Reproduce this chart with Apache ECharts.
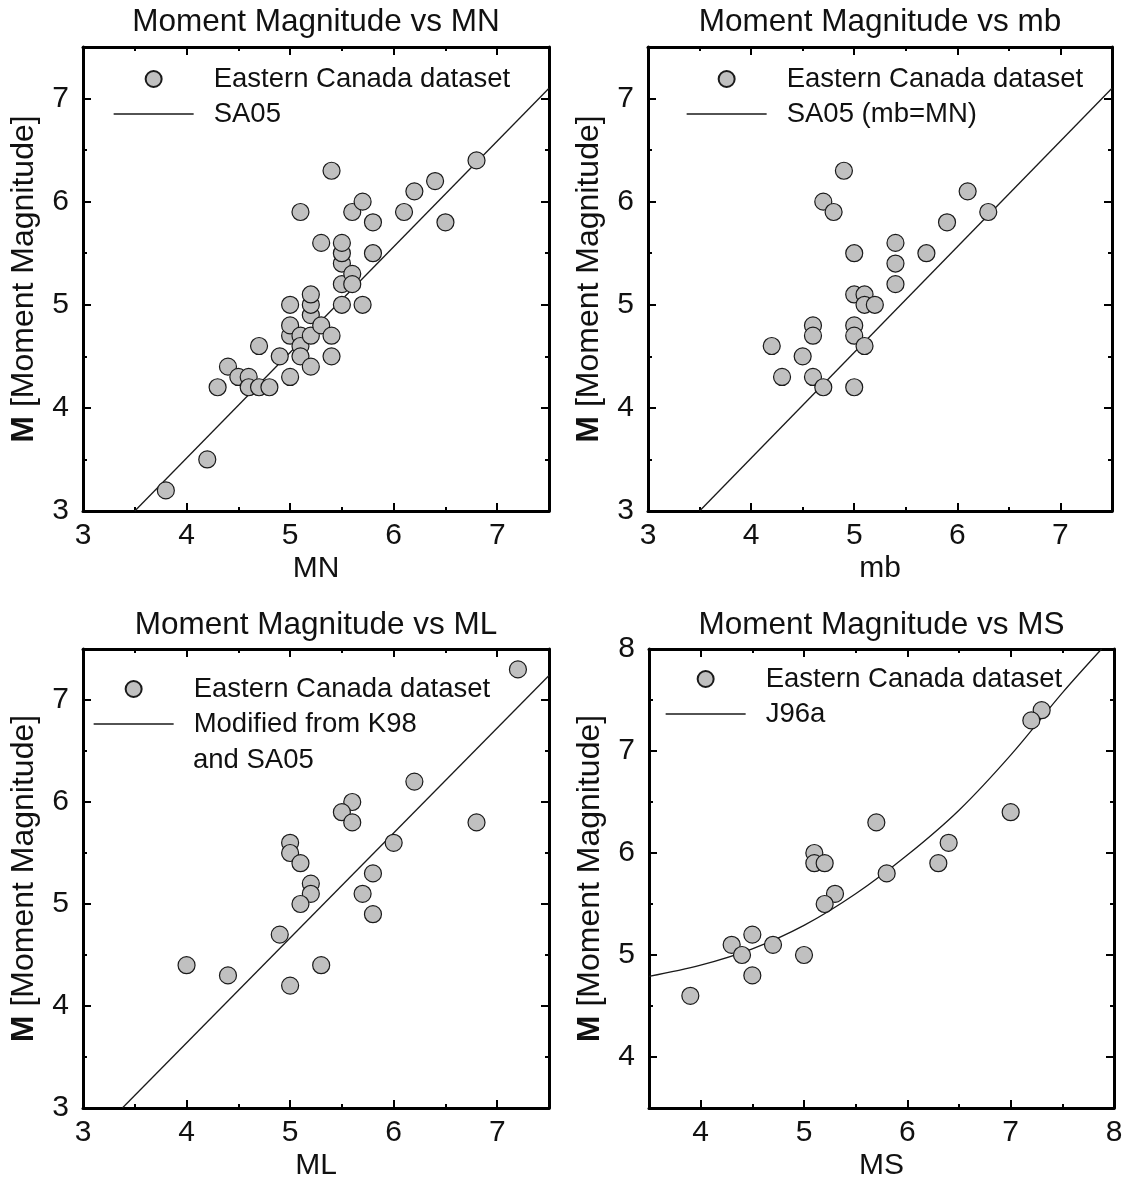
<!DOCTYPE html>
<html><head><meta charset="utf-8">
<script src="https://cdn.jsdelivr.net/npm/echarts@6/dist/echarts.min.js"></script>
<style>html,body{margin:0;padding:0;background:#fff}#c{width:1129px;height:1182px}</style>
</head><body><div id="c"></div>
<script>
// ---- data ----
const titles = ['Moment Magnitude vs MN', 'Moment Magnitude vs mb', 'Moment Magnitude vs ML', 'Moment Magnitude vs MS'];
const xNames = ['MN', 'mb', 'ML', 'MS'];
const yName = '{b|M} [Moment Magnitude]';
const dataName = 'Eastern Canada dataset';
const lineNames = ['SA05', 'SA05 (mb=MN)', 'Modified from K98', 'J96a'];
const lineNameExtra = 'and SA05';
const xRanges = [[3, 7.5], [3, 7.5], [3, 7.5], [3.5, 8]];
const yRanges = [[3, 7.5], [3, 7.5], [3, 7.5], [3.5, 8]];
const xTicks = [[3, 4, 5, 6, 7], [3, 4, 5, 6, 7], [3, 4, 5, 6, 7], [4, 5, 6, 7, 8]];
const yTicks = [[3, 4, 5, 6, 7], [3, 4, 5, 6, 7], [3, 4, 5, 6, 7], [4, 5, 6, 7, 8]];

const pointsMN = [[3.8,3.2],[4.2,3.5],[4.3,4.2],[4.4,4.4],[4.5,4.3],[4.6,4.3],[4.6,4.2],[4.7,4.2],[4.8,4.2],[4.7,4.6],[4.9,4.5],[5.0,4.3],[5.0,4.7],[5.0,4.8],[5.0,5.0],[5.1,4.7],[5.1,4.6],[5.1,4.5],[5.2,4.4],[5.2,4.7],[5.2,4.9],[5.2,5.0],[5.2,5.1],[5.3,4.8],[5.4,4.7],[5.4,4.5],[5.1,5.9],[5.3,5.6],[5.4,6.3],[5.5,5.0],[5.5,5.2],[5.5,5.4],[5.5,5.5],[5.5,5.6],[5.6,5.3],[5.6,5.2],[5.6,5.9],[5.7,6.0],[5.7,5.0],[5.8,5.8],[5.8,5.5],[6.1,5.9],[6.2,6.1],[6.4,6.2],[6.5,5.8],[6.8,6.4]];
const pointsMb = [[4.9,6.3],[4.7,6.0],[4.8,5.9],[6.1,6.1],[6.3,5.9],[5.9,5.8],[5.7,5.5],[5.4,5.6],[5.4,5.4],[5.4,5.2],[5.0,5.5],[5.0,5.1],[5.1,5.1],[5.1,5.0],[5.2,5.0],[5.0,4.8],[5.0,4.7],[5.1,4.6],[4.6,4.8],[4.6,4.7],[4.2,4.6],[4.5,4.5],[4.3,4.3],[4.6,4.3],[4.7,4.2],[5.0,4.2]];
const pointsML = [[7.2,7.3],[6.2,6.2],[5.6,6.0],[5.5,5.9],[5.6,5.8],[6.8,5.8],[6.0,5.6],[5.0,5.6],[5.0,5.5],[5.1,5.4],[5.8,5.3],[5.2,5.2],[5.2,5.1],[5.7,5.1],[5.1,5.0],[5.8,4.9],[4.9,4.7],[4.0,4.4],[4.4,4.3],[5.3,4.4],[5.0,4.2]];
const pointsMS = [[7.3,7.4],[7.2,7.3],[7.0,6.4],[5.7,6.3],[6.4,6.1],[6.3,5.9],[5.8,5.8],[5.1,6.0],[5.1,5.9],[5.2,5.9],[5.3,5.6],[5.2,5.5],[4.5,5.2],[4.3,5.1],[4.4,5.0],[4.7,5.1],[5.0,5.0],[4.5,4.8],[3.9,4.6]];

const lineMN = [[3.5,3.0],[7.5,7.1]];
const lineMb = [[3.5,3.0],[7.5,7.1]];
const lineML = [[3.38,3.0],[7.5,7.24]];
const curveMS = [[3.5,4.79],[4,4.9],[4.5,5.06],[5,5.29],[5.5,5.6],[6,5.98],[6.5,6.42],[7,6.96],[7.5,7.57],[7.88,8.0]];

// ---- layout ----
const FONT = '"Liberation Sans", Arial, Helvetica, sans-serif';
const TXT = '#111';
const LINE = '#1a1a1a';
const grids = [
  {left: 83, top: 47, width: 466, height: 464},
  {left: 648, top: 47, width: 464, height: 464},
  {left: 83, top: 649, width: 466, height: 464},
  {left: 649, top: 649, width: 465, height: 465}
];
const legendPos = [[113, 65], [686, 65], [93, 675], [665, 665]];
const titleTops = [6, 6, 609, 609];
const pointSets = [pointsMN, pointsMb, pointsML, pointsMS];
const lineSets = [lineMN, lineMb, lineML, curveMS];

const xAxis = [], yAxis = [];
grids.forEach((g, i) => {
  const [x0, x1] = xRanges[i], [y0, y1] = yRanges[i];
  ['bottom', 'top'].forEach(pos => {
    xAxis.push({
      gridIndex: i, type: 'value', position: pos, min: x0, max: x1, interval: 0.5,
      axisLine: {show: true, onZero: false, lineStyle: {color: '#000', width: 3}},
      axisTick: {show: true, inside: true, length: 4, lineStyle: {color: '#000', width: 2}},
      axisLabel: {show: false}, splitLine: {show: false}
    });
    const major = {
      gridIndex: i, type: 'value', position: pos, min: x0, max: x1,
      axisLine: {show: false, onZero: false},
      axisTick: {show: true, inside: true, length: 8, customValues: xTicks[i], lineStyle: {color: '#000', width: 2}},
      axisLabel: {show: pos === 'bottom', customValues: xTicks[i], fontSize: 30, margin: 10, color: TXT, fontFamily: FONT},
      splitLine: {show: false}
    };
    if (pos === 'bottom') {
      major.name = xNames[i]; major.nameLocation = 'middle'; major.nameGap = 43;
      major.nameTextStyle = {fontSize: 30, color: TXT, fontFamily: FONT};
    }
    xAxis.push(major);
  });
  ['left', 'right'].forEach(pos => {
    yAxis.push({
      gridIndex: i, type: 'value', position: pos, min: y0, max: y1, interval: 0.5,
      axisLine: {show: true, onZero: false, lineStyle: {color: '#000', width: 3}},
      axisTick: {show: true, inside: true, length: 4, lineStyle: {color: '#000', width: 2}},
      axisLabel: {show: false}, splitLine: {show: false}
    });
    const major = {
      gridIndex: i, type: 'value', position: pos, min: y0, max: y1,
      axisLine: {show: false, onZero: false},
      axisTick: {show: true, inside: true, length: 8, customValues: yTicks[i], lineStyle: {color: '#000', width: 2}},
      axisLabel: {show: pos === 'left', customValues: yTicks[i], fontSize: 30, margin: 14, color: TXT, fontFamily: FONT},
      splitLine: {show: false}
    };
    if (pos === 'left') {
      major.name = yName; major.nameLocation = 'middle'; major.nameGap = 43; major.nameRotate = 90;
      major.nameTextStyle = {fontSize: 32, color: TXT, fontFamily: FONT,
        rich: {b: {fontSize: 32, fontWeight: 'bold', color: TXT, fontFamily: FONT}}};
    }
    yAxis.push(major);
  });
});

const series = [];
grids.forEach((g, i) => {
  series.push({
    type: 'line', name: lineNames[i], xAxisIndex: 4 * i, yAxisIndex: 4 * i,
    data: lineSets[i], symbol: 'none', showSymbol: false, smooth: i === 3 ? 0.35 : false,
    itemStyle: {color: LINE},
    lineStyle: {color: LINE, width: 1.3}, z: 2, silent: true
  });
  series.push({
    type: 'scatter', name: dataName, xAxisIndex: 4 * i, yAxisIndex: 4 * i,
    data: pointSets[i], symbol: 'circle', symbolSize: 17,
    itemStyle: {color: '#c0c0c0', borderColor: LINE, borderWidth: 1.2, opacity: 1},
    z: 3, silent: true
  });
});

const option = {
  animation: false,
  backgroundColor: '#fff',
  textStyle: {fontFamily: FONT},
  title: titles.map((t, i) => ({
    text: t, left: grids[i].left + grids[i].width / 2, top: titleTops[i], textAlign: 'center', padding: 0,
    textStyle: {fontSize: 31.5, fontWeight: 'normal', color: TXT, fontFamily: FONT}
  })),
  grid: grids.map(g => Object.assign({containLabel: false}, g)),
  legend: grids.map((g, i) => ({
    left: legendPos[i][0], top: legendPos[i][1], orient: 'vertical', padding: 0, itemGap: 7,
    itemWidth: 80, itemHeight: 16, selectedMode: false,
    data: [
      {name: dataName},
      {name: lineNames[i], itemStyle: {opacity: 0}, lineStyle: {color: LINE, width: 1.3}}
    ],
    textStyle: {fontSize: 27.5, color: TXT, fontFamily: FONT, lineHeight: 28, padding: [0, 0, 0, 15]}
  })),
  graphic: [{
    type: 'text', left: 193, top: 746,
    style: {text: lineNameExtra, fontSize: 27.5, fill: TXT, fontFamily: FONT}
  }],
  xAxis, yAxis, series
};
const chart = echarts.init(document.getElementById('c'), null, {renderer: 'canvas'});
chart.setOption(option);
</script></body></html>
